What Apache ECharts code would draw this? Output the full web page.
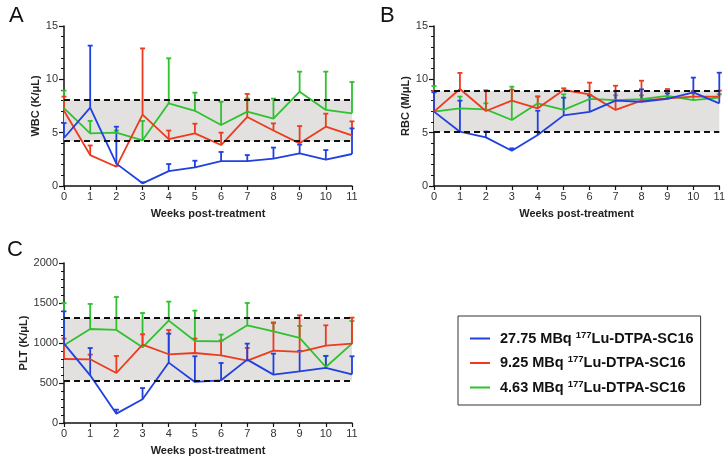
<!DOCTYPE html>
<html><head><meta charset="utf-8">
<script src="https://cdn.jsdelivr.net/npm/echarts@6/dist/echarts.min.js"></script>
<style>html,body{margin:0;padding:0;background:#fff}#c{width:728px;height:459px}</style>
</head><body><div id="c"></div>
<script>
const weeks = [0,1,2,3,4,5,6,7,8,9,10,11];
const seriesNames = ['27.75 MBq 177Lu-DTPA-SC16','9.25 MBq 177Lu-DTPA-SC16','4.63 MBq 177Lu-DTPA-SC16'];
const colors = ['#2140e0','#ec3b1e','#2fc12f'];

const wbcHigh = [4.5,7.34,2.1,0.25,1.4,1.75,2.34,2.34,2.56,3.06,2.47,3.0];
const wbcHighUp = [5.9,13.16,5.56,0.35,2.06,2.37,3.19,2.9,3.6,3.88,3.37,5.4];
const wbcMid = [7.05,2.9,1.8,6.7,4.4,4.94,3.84,6.47,5.2,4.0,5.56,4.75];
const wbcMidUp = [8.38,3.8,1.9,12.9,5.2,5.84,5.0,8.63,5.87,5.62,6.78,6.06];
const wbcLow = [7.3,4.94,5.0,4.28,7.75,7.05,5.72,6.97,6.31,8.84,7.13,6.81];
const wbcLowUp = [8.94,6.1,5.2,6.1,11.97,8.75,7.9,8.2,8.19,10.72,10.72,9.75];
const wbcRange = [4.2,8.1];

const rbcHigh = [6.97,5.09,4.56,3.31,4.78,6.62,6.95,8.0,7.9,8.16,8.78,7.75];
const rbcHighUp = [8.78,8.0,5.1,3.53,7.06,8.28,8.5,8.9,9.06,8.69,10.16,10.62];
const rbcMid = [6.97,9.09,7.03,8.0,7.28,9.0,8.59,7.13,8.0,8.22,8.38,8.38];
const rbcMidUp = [8.9,10.6,8.97,9.03,8.4,9.16,9.69,9.4,9.87,9.09,8.9,8.94];
const rbcLow = [6.97,7.28,7.19,6.19,7.75,7.13,8.16,8.06,8.15,8.44,8.06,8.28];
const rbcLowUp = [9.37,8.38,7.75,9.31,8.38,8.6,8.5,8.5,8.5,8.9,8.7,8.6];
const rbcRange = [5.1,8.9];

const pltHigh = [992,596,117,296,755,513,534,792,605,646,688,608];
const pltHighUp = [1396,937,167,437,1117,834,750,992,867,900,838,834];
const pltMid = [800,796,625,980,859,875,846,780,904,888,967,992];
const pltMidUp = [1055,855,838,1109,1163,1055,1030,938,1250,1346,1221,1317];
const pltLow = [971,1175,1163,946,1280,1025,1021,1221,1146,1063,700,992];
const pltLowUp = [1500,1488,1575,1375,1517,1405,1105,1500,1259,1213,840,1275];
const pltRange = [530,1310];

const yTicks = {wbc:[0,15,5], rbc:[0,15,5], plt:[0,2000,500]};
const yNames = ['WBC (K/\u03bcL)','RBC (M/\u03bcL)','PLT (K/\u03bcL)'];

const font = 'Liberation Sans, Arial, Helvetica, sans-serif';
const grids = [
  {left:64, top:26, width:288, height:160},
  {left:434, top:26, width:288, height:160},
  {left:64, top:263, width:288, height:160}
];

function xAxis(i){
  return {type:'value', gridIndex:i, min:0, max:11, interval:1,
    name:'Weeks post-treatment', nameLocation:'middle', nameGap:22,
    nameTextStyle:{fontFamily:font, fontWeight:'bold', fontSize:11, color:'#222'},
    axisLine:{lineStyle:{color:'#111', width:1.5}},
    axisTick:{length:4, lineStyle:{color:'#111', width:1.2}},
    axisLabel:{fontFamily:font, fontSize:11, color:'#333', margin:5},
    splitLine:{show:false}};
}
function yAxis(i, t, gap){
  return {type:'value', gridIndex:i, min:t[0], max:t[1], interval:t[2],
    name:yNames[i], nameLocation:'middle', nameGap:gap,
    nameTextStyle:{fontFamily:font, fontWeight:'bold', fontSize:11, color:'#222'},
    axisLine:{show:true, lineStyle:{color:'#111', width:1.5}},
    axisTick:{length:5, lineStyle:{color:'#111', width:1.2}},
    minorTick:{show:true, splitNumber:5, length:3, lineStyle:{color:'#111', width:1}},
    axisLabel:{fontFamily:font, fontSize:11, color:'#333', margin:6, formatter:function(v){return String(v);}},
    splitLine:{show:false}};
}

const series = [];
function addPanel(i, means, ups, range){
  series.push({type:'line', xAxisIndex:i, yAxisIndex:i, data:[], z:1, silent:true,
    markArea:{silent:true, itemStyle:{color:'#e2e1df'}, data:[[{yAxis:range[0]},{yAxis:range[1]}]]},
    markLine:{silent:true, symbol:'none', label:{show:false},
      lineStyle:{color:'#111', type:[6,4], width:1.8},
      data:[{yAxis:range[0]},{yAxis:range[1]}]}});
  // draw order: low dose (green), mid (red), high (blue)
  [2,1,0].forEach(k=>{
    const pts = weeks.map((w,j)=>[w, means[k][j], ups[k][j]]);
    series.push({type:'custom', xAxisIndex:i, yAxisIndex:i, name:'err'+k, z:3, silent:true,
      data:pts, encode:{x:0, y:[1,2]},
      renderItem:function(params, api){
        const p0 = api.coord([api.value(0), api.value(1)]);
        const p1 = api.coord([api.value(0), api.value(2)]);
        const st = {stroke:colors[k], lineWidth:1.8};
        return {type:'group', children:[
          {type:'line', shape:{x1:p0[0], y1:p0[1], x2:p1[0], y2:p1[1]}, style:st},
          {type:'line', shape:{x1:p1[0]-2.5, y1:p1[1], x2:p1[0]+2.5, y2:p1[1]}, style:st}
        ]};
      }});
    series.push({type:'line', name:seriesNames[k], xAxisIndex:i, yAxisIndex:i, z:4,
      data:weeks.map((w,j)=>[w, means[k][j]]), showSymbol:false, symbol:'none',
      lineStyle:{color:colors[k], width:1.8}, itemStyle:{color:colors[k]}});
  });
}
addPanel(0, [wbcHigh,wbcMid,wbcLow], [wbcHighUp,wbcMidUp,wbcLowUp], wbcRange);
addPanel(1, [rbcHigh,rbcMid,rbcLow], [rbcHighUp,rbcMidUp,rbcLowUp], rbcRange);
addPanel(2, [pltHigh,pltMid,pltLow], [pltHighUp,pltMidUp,pltLowUp], pltRange);

const option = {
  animation:false,
  backgroundColor:'#fff',
  title:[
    {text:'A', left:4, top:0, textStyle:{fontFamily:font, fontSize:22, fontWeight:'normal', color:'#111'}},
    {text:'B', left:375, top:0, textStyle:{fontFamily:font, fontSize:22, fontWeight:'normal', color:'#111'}},
    {text:'C', left:2, top:234, textStyle:{fontFamily:font, fontSize:22, fontWeight:'normal', color:'#111'}}
  ],
  grid:grids,
  xAxis:[xAxis(0), xAxis(1), xAxis(2)],
  yAxis:[yAxis(0, yTicks.wbc, 21), yAxis(1, yTicks.rbc, 23), yAxis(2, yTicks.plt, 33)],
  legend:{
    data:seriesNames, orient:'vertical', left:458, top:316,
    borderColor:'#333', borderWidth:1, padding:[14,7,9,12], itemGap:7.5,
    icon:'rect', itemWidth:20, itemHeight:2,
    formatter:function(n){ return n.replace('177','{sup|177}'); },
    textStyle:{fontFamily:font, fontSize:14.5, fontWeight:'bold', color:'#111', lineHeight:17, padding:[0,0,0,5],
      rich:{sup:{fontFamily:font, fontSize:9.5, fontWeight:'bold', color:'#111', verticalAlign:'top', lineHeight:17, padding:[0,0,6,0]}}},
    selectedMode:false
  },
  series:series
};
const chart = echarts.init(document.getElementById('c'), null, {renderer:'canvas'});
chart.setOption(option);
</script></body></html>
